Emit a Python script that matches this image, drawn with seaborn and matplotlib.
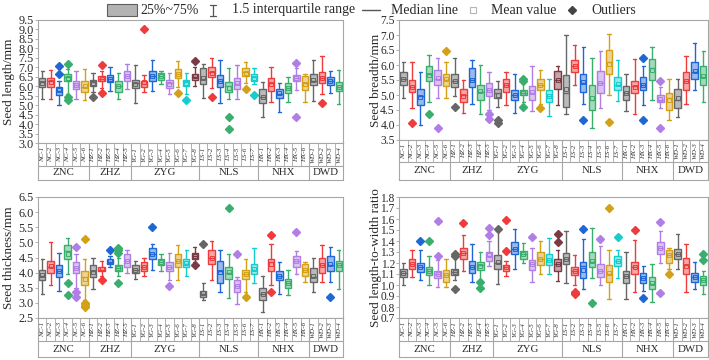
import numpy as np
import matplotlib
matplotlib.use('Agg')
import matplotlib.pyplot as plt
import seaborn as sns
from matplotlib.colors import to_rgba
from matplotlib.patches import Rectangle

sns.set_theme(style='white')
plt.rcParams['font.family'] = ['Liberation Serif', 'DejaVu Serif']
plt.rcParams['mathtext.fontset'] = 'stix'

# === DATA ===
groups = ['ZNC', 'ZHZ', 'ZYG', 'NLS', 'NHX', 'DWD']
group_samples = [
    ['NC-1', 'NC-2', 'NC-3', 'NC-4', 'NC-5', 'NC-6'],
    ['HZ-1', 'HZ-2', 'HZ-3', 'HZ-4', 'HZ-5'],
    ['YG-1', 'YG-2', 'YG-3', 'YG-4', 'YG-5', 'YG-6', 'YG-7', 'YG-8'],
    ['LS-1', 'LS-2', 'LS-3', 'LS-4', 'LS-5', 'LS-6', 'LS-7'],
    ['HX-1', 'HX-2', 'HX-3', 'HX-4', 'HX-5', 'HX-6'],
    ['WD-1', 'WD-2', 'WD-3', 'WD-4'],
]
colors = ['#666666', '#ef3b3b', '#1f66d6', '#3aae6c', '#b07ee6',
          '#d4a015', '#16cccc', '#7a3a44']

# each box: (whisker low, q1, median, q3, whisker high, mean, outliers)
length_rows = [
    (5.30, 5.95, 6.20, 6.45, 6.80, 6.18, []),
    (5.30, 5.95, 6.25, 6.45, 6.85, 6.22, []),
    (5.00, 5.55, 5.75, 5.95, 6.30, 5.78, [6.65, 7.05]),
    (5.60, 6.30, 6.50, 6.65, 6.90, 6.45, [7.20, 5.45, 5.25]),
    (5.35, 5.85, 6.05, 6.30, 6.80, 6.08, []),
    (5.25, 5.70, 5.95, 6.30, 6.90, 6.00, []),
    (5.70, 6.00, 6.20, 6.35, 6.70, 6.15, [5.45]),
    (5.90, 6.25, 6.40, 6.55, 6.80, 6.40, [7.10, 5.65]),
    (5.75, 6.20, 6.40, 6.60, 7.00, 6.40, []),
    (5.35, 5.70, 6.00, 6.30, 6.70, 6.00, []),
    (5.85, 6.30, 6.55, 6.80, 7.15, 6.55, []),
    (5.10, 5.90, 6.15, 6.35, 7.10, 6.12, []),
    (5.70, 5.95, 6.10, 6.30, 6.60, 6.20, [9.00]),
    (5.75, 6.30, 6.55, 6.80, 7.40, 6.55, []),
    (6.10, 6.35, 6.55, 6.70, 6.80, 6.52, []),
    (5.60, 5.90, 6.15, 6.35, 6.70, 6.12, []),
    (5.95, 6.45, 6.65, 6.90, 7.35, 6.65, [5.65]),
    (5.60, 6.00, 6.20, 6.35, 6.70, 6.15, [5.25]),
    (6.00, 6.35, 6.50, 6.65, 7.00, 6.55, [7.35]),
    (5.40, 6.10, 6.40, 6.95, 7.20, 6.45, []),
    (5.90, 6.50, 6.75, 7.00, 7.50, 6.72, [5.45]),
    (5.10, 5.95, 6.25, 6.60, 7.40, 6.25, []),
    (5.30, 5.70, 6.00, 6.20, 6.95, 5.90, [4.40, 3.75]),
    (5.30, 5.85, 6.10, 6.45, 7.10, 6.15, []),
    (6.15, 6.55, 6.75, 6.95, 7.30, 6.72, [5.85]),
    (6.10, 6.30, 6.50, 6.65, 6.95, 6.45, [5.55]),
    (4.35, 5.10, 5.45, 5.85, 6.20, 5.45, []),
    (5.15, 5.75, 6.15, 6.45, 7.00, 6.10, []),
    (4.65, 5.40, 5.60, 5.85, 6.15, 5.62, []),
    (5.15, 5.65, 5.90, 6.15, 6.50, 5.90, []),
    (5.80, 6.30, 6.45, 6.60, 6.95, 6.42, [7.25, 4.35]),
    (5.15, 5.80, 6.15, 6.55, 6.65, 6.10, []),
    (5.20, 6.05, 6.30, 6.65, 7.40, 6.32, []),
    (5.60, 6.15, 6.45, 6.75, 7.60, 6.42, [5.10]),
    (5.65, 6.05, 6.25, 6.50, 6.80, 6.25, []),
    (5.05, 5.75, 5.95, 6.20, 6.85, 5.95, []),
]

breadth_rows = [
    (4.90, 5.35, 5.55, 5.75, 6.10, 5.55, []),
    (4.55, 5.10, 5.25, 5.50, 6.10, 5.28, [4.05]),
    (4.00, 4.65, 4.95, 5.20, 5.75, 4.92, []),
    (4.75, 5.45, 5.70, 5.95, 6.35, 5.65, [4.35]),
    (4.90, 5.35, 5.55, 5.85, 6.25, 5.58, [3.90]),
    (4.90, 5.30, 5.50, 5.70, 6.10, 5.52, [6.45]),
    (4.95, 5.25, 5.45, 5.70, 6.25, 5.45, [4.60]),
    (4.40, 4.75, 5.00, 5.20, 5.50, 4.98, []),
    (4.70, 5.25, 5.50, 5.90, 6.15, 5.50, []),
    (4.35, 4.85, 5.10, 5.35, 6.00, 5.12, []),
    (4.50, 4.95, 5.15, 5.40, 5.75, 5.15, [4.35, 4.20]),
    (4.60, 4.90, 5.05, 5.20, 5.45, 5.00, [4.15, 4.08]),
    (4.65, 5.10, 5.35, 5.55, 5.75, 5.32, []),
    (4.40, 4.85, 5.00, 5.15, 5.70, 5.00, []),
    (4.75, 5.00, 5.08, 5.15, 5.40, 5.08, [5.55, 5.45, 4.60]),
    (4.45, 4.85, 5.05, 5.30, 5.95, 5.10, []),
    (4.70, 5.15, 5.35, 5.55, 5.85, 5.35, [4.55]),
    (4.30, 4.75, 4.95, 5.15, 5.55, 4.95, []),
    (4.65, 5.20, 5.50, 5.80, 5.95, 5.50, []),
    (4.35, 4.60, 5.05, 5.65, 7.00, 5.20, []),
    (5.35, 5.75, 5.95, 6.15, 6.65, 5.95, []),
    (4.70, 5.10, 5.40, 5.70, 6.60, 5.42, [4.15]),
    (3.90, 4.50, 4.85, 5.35, 6.25, 4.90, []),
    (4.55, 5.05, 5.40, 5.80, 6.45, 5.40, []),
    (5.00, 5.70, 6.10, 6.50, 7.05, 6.02, [4.10]),
    (4.80, 5.15, 5.35, 5.60, 6.15, 5.38, []),
    (4.45, 4.85, 5.05, 5.30, 5.70, 5.08, []),
    (4.35, 5.05, 5.30, 5.45, 6.20, 5.28, []),
    (4.65, 5.15, 5.35, 5.60, 5.95, 5.35, [6.25, 4.15]),
    (4.85, 5.50, 5.90, 6.20, 6.60, 5.85, []),
    (4.55, 4.75, 4.85, 5.00, 5.25, 4.88, [5.45, 3.90]),
    (4.15, 4.50, 4.90, 5.05, 5.55, 4.82, []),
    (4.25, 4.55, 4.85, 5.20, 5.55, 4.90, []),
    (4.70, 5.15, 5.45, 5.75, 6.30, 5.45, []),
    (5.15, 5.55, 5.75, 6.10, 6.75, 5.80, []),
    (4.75, 5.35, 5.60, 5.95, 6.45, 5.62, []),
]

thickness_rows = [
    (3.30, 3.75, 3.90, 4.10, 4.45, 3.92, []),
    (3.60, 4.00, 4.20, 4.40, 5.00, 4.22, []),
    (3.40, 3.85, 4.05, 4.25, 4.65, 4.05, []),
    (3.95, 4.45, 4.70, 4.90, 5.15, 4.62, [3.65, 3.25]),
    (3.50, 4.00, 4.15, 4.35, 4.60, 4.15, [4.85, 3.35, 3.20]),
    (3.10, 3.60, 3.85, 4.05, 4.45, 3.80, [5.10, 3.00, 2.95, 2.90, 2.85]),
    (3.45, 3.85, 4.05, 4.25, 4.50, 4.02, []),
    (3.90, 4.05, 4.10, 4.20, 4.40, 4.12, [3.75]),
    (4.20, 4.30, 4.35, 4.45, 4.55, 4.38, [4.75]),
    (3.90, 4.05, 4.15, 4.25, 4.50, 4.15, [4.80, 4.75, 4.65, 3.65]),
    (4.00, 4.20, 4.40, 4.60, 4.75, 4.38, []),
    (3.80, 4.00, 4.10, 4.25, 4.40, 4.10, []),
    (3.90, 4.05, 4.20, 4.35, 4.50, 4.20, []),
    (4.10, 4.45, 4.60, 4.80, 4.95, 4.62, [5.50]),
    (4.05, 4.25, 4.35, 4.45, 4.60, 4.35, []),
    (3.75, 4.05, 4.20, 4.35, 4.65, 4.18, [3.55]),
    (3.75, 4.20, 4.40, 4.60, 4.90, 4.40, []),
    (3.90, 4.20, 4.30, 4.45, 4.75, 4.32, []),
    (4.35, 4.45, 4.55, 4.65, 4.85, 4.55, [4.25]),
    (3.10, 3.20, 3.30, 3.40, 3.65, 3.32, [4.95]),
    (3.75, 4.30, 4.50, 4.75, 5.05, 4.50, []),
    (3.35, 3.65, 4.05, 4.40, 4.75, 4.02, []),
    (3.15, 3.80, 4.00, 4.20, 4.60, 4.02, [6.15]),
    (2.95, 3.35, 3.55, 3.75, 3.85, 3.55, [4.60]),
    (3.35, 3.80, 3.95, 4.10, 4.45, 3.95, [3.20]),
    (3.65, 3.95, 4.10, 4.30, 4.80, 4.12, []),
    (2.70, 3.10, 3.30, 3.50, 3.90, 3.30, []),
    (3.60, 4.05, 4.35, 4.45, 4.95, 4.30, [5.25, 3.35]),
    (3.30, 3.75, 3.90, 4.05, 4.35, 3.90, []),
    (3.25, 3.50, 3.65, 3.80, 4.10, 3.65, []),
    (3.95, 4.20, 4.40, 4.55, 4.70, 4.38, [5.35]),
    (3.70, 3.90, 4.10, 4.30, 4.35, 4.08, []),
    (3.35, 3.70, 3.85, 4.15, 4.50, 3.90, []),
    (3.70, 4.00, 4.25, 4.50, 4.90, 4.25, []),
    (3.70, 4.05, 4.25, 4.55, 4.85, 4.30, [3.20]),
    (3.45, 4.05, 4.25, 4.40, 4.75, 4.25, []),
]

ratio_rows = [
    (1.00, 1.07, 1.11, 1.15, 1.20, 1.11, []),
    (1.07, 1.15, 1.19, 1.24, 1.32, 1.19, []),
    (1.05, 1.12, 1.16, 1.20, 1.32, 1.16, [1.40]),
    (1.00, 1.09, 1.13, 1.16, 1.26, 1.13, [1.40]),
    (0.98, 1.06, 1.10, 1.13, 1.23, 1.10, [1.58, 1.26]),
    (0.98, 1.03, 1.09, 1.14, 1.24, 1.09, []),
    (1.05, 1.09, 1.12, 1.15, 1.25, 1.12, [1.28, 1.26, 0.96]),
    (1.13, 1.24, 1.29, 1.34, 1.45, 1.29, [1.56]),
    (1.03, 1.11, 1.16, 1.22, 1.37, 1.16, []),
    (1.05, 1.14, 1.18, 1.21, 1.30, 1.17, [1.03, 0.97]),
    (1.17, 1.22, 1.26, 1.30, 1.40, 1.27, [1.52, 1.45]),
    (1.01, 1.15, 1.20, 1.27, 1.49, 1.21, [1.51]),
    (1.08, 1.13, 1.16, 1.18, 1.22, 1.16, [1.59, 1.31]),
    (1.15, 1.28, 1.33, 1.39, 1.51, 1.33, []),
    (1.20, 1.24, 1.28, 1.31, 1.38, 1.28, []),
    (1.03, 1.14, 1.19, 1.23, 1.34, 1.19, [1.44]),
    (1.10, 1.18, 1.24, 1.30, 1.40, 1.24, []),
    (1.10, 1.18, 1.23, 1.28, 1.43, 1.23, []),
    (1.04, 1.13, 1.19, 1.24, 1.32, 1.19, [1.46, 1.39]),
    (1.02, 1.19, 1.24, 1.29, 1.49, 1.24, []),
    (1.00, 1.09, 1.13, 1.16, 1.27, 1.13, [0.94, 0.93, 0.92]),
    (0.96, 1.06, 1.17, 1.21, 1.42, 1.14, [1.51]),
    (1.06, 1.16, 1.21, 1.30, 1.52, 1.22, [0.84]),
    (1.00, 1.07, 1.13, 1.19, 1.35, 1.13, [1.42]),
    (0.87, 1.03, 1.10, 1.18, 1.32, 1.11, [1.70]),
    (1.06, 1.17, 1.22, 1.26, 1.32, 1.22, [1.44]),
    (0.87, 1.02, 1.08, 1.13, 1.30, 1.08, []),
    (0.94, 1.10, 1.16, 1.21, 1.41, 1.16, [1.50]),
    (0.95, 1.02, 1.06, 1.11, 1.17, 1.06, [0.88]),
    (0.85, 0.96, 1.01, 1.07, 1.19, 1.02, []),
    (1.20, 1.28, 1.34, 1.39, 1.49, 1.34, [1.57, 0.93]),
    (1.15, 1.20, 1.27, 1.32, 1.34, 1.27, [1.10]),
    (1.15, 1.24, 1.28, 1.33, 1.46, 1.28, []),
    (0.94, 1.10, 1.18, 1.25, 1.37, 1.17, []),
    (0.96, 1.03, 1.07, 1.11, 1.21, 1.07, []),
    (0.92, 1.00, 1.05, 1.08, 1.13, 1.05, [1.28, 1.23]),
]

samples = [s for g in group_samples for s in g]
box_colors = [colors[i] for g in group_samples for i in range(len(g))]
n = len(samples)
frame_col = '#a6a6a6'
text_col = '#2a2a2a'


def draw_panel(ax, tab, rows, ylim, yticks, ylabel, label_x, split, tick_fs):
    stats = [dict(whislo=r[0], q1=r[1], med=r[2], q3=r[3], whishi=r[4],
                  mean=r[5], fliers=r[6]) for r in rows]
    pos = np.arange(n)
    bp = ax.bxp(stats, positions=pos, widths=0.76, capwidths=0.4,
                patch_artist=True, showmeans=True,
                meanprops=dict(marker='s', markersize=3, markerfacecolor='none'),
                flierprops=dict(marker='D', markersize=4.2))
    for i, c in enumerate(box_colors):
        bp['boxes'][i].set(facecolor=to_rgba(c, 0.45), edgecolor=c, linewidth=1.0)
        for art in bp['whiskers'][2 * i:2 * i + 2] + bp['caps'][2 * i:2 * i + 2]:
            art.set(color=c, linewidth=1.0)
        bp['medians'][i].set(color=c, linewidth=1.0)
        bp['means'][i].set(markeredgecolor=c, markeredgewidth=0.7)
        bp['fliers'][i].set(markerfacecolor=c, markeredgecolor=c)

    ax.set_xlim(-0.5, n - 0.5)
    ax.set_ylim(*ylim)
    ax.set_yticks(yticks)
    ax.set_yticklabels([f'{t:.1f}' for t in yticks])
    ax.set_xticks([])
    ax.tick_params(axis='y', direction='out', length=2, width=0.6, pad=1,
                   labelsize=tick_fs, colors=frame_col, labelcolor=text_col, left=True)
    for sp in ax.spines.values():
        sp.set_color(frame_col)
        sp.set_linewidth(0.8)
    ax.set_ylabel(ylabel, fontsize=9.5, color=text_col)
    ax.yaxis.set_label_coords(label_x, 0.5)

    # table of sample / group names below the plot
    tab.set_xlim(-0.5, n - 0.5)
    tab.set_ylim(0, 1)
    tab.set_xticks([])
    tab.set_yticks([])
    for sp in tab.spines.values():
        sp.set_color(frame_col)
        sp.set_linewidth(0.8)
    tab.axhline(split, color=frame_col, lw=0.8)
    start = 0
    for g, names in zip(groups, group_samples):
        stop = start + len(names)
        for k in range(start, stop - 1):
            tab.plot([k + 0.5, k + 0.5], [split, 1], color=frame_col, lw=0.6)
        if stop < n:
            tab.plot([stop - 0.5, stop - 0.5], [0, 1], color=frame_col, lw=0.8)
        tab.text((start + stop - 1) / 2, split / 2, g, ha='center', va='center',
                 fontsize=7.8, color=text_col)
        start = stop
    for k, s in enumerate(samples):
        tab.text(k, (1 + split) / 2, s, rotation=90, ha='center', va='center',
                 fontsize=5.0, style='italic', color='#333333')


W, H = 709, 360
fig = plt.figure(figsize=(W / 100, H / 100), dpi=100)


def px_axes(x0, y0, x1, y1):
    return fig.add_axes([x0 / W, 1 - y1 / H, (x1 - x0) / W, (y1 - y0) / H])


ax1 = px_axes(38, 20, 343, 143)
tb1 = px_axes(38, 143, 343, 179.5)
ax2 = px_axes(399, 20, 707.5, 140)
tb2 = px_axes(399, 140, 707.5, 179.5)
ax3 = px_axes(38, 197, 343, 318)
tb3 = px_axes(38, 318, 343, 357)
ax4 = px_axes(399, 197, 707.5, 318)
tb4 = px_axes(399, 318, 707.5, 357)

draw_panel(ax1, tb1, length_rows, (3.0, 9.5), np.arange(3.0, 9.51, 0.5),
           'Seed length/mm', -0.075, 0.38, 8.8)
draw_panel(ax2, tb2, breadth_rows, (3.5, 7.5), np.arange(3.5, 7.51, 0.5),
           'Seed breadth/mm', -0.055, 0.44, 8.3)
draw_panel(ax3, tb3, thickness_rows, (2.5, 6.5), np.arange(2.5, 6.51, 0.5),
           'Seed thickness/mm', -0.075, 0.41, 8.8)
draw_panel(ax4, tb4, ratio_rows, (0.7, 1.8), np.arange(0.7, 1.801, 0.1),
           'Seed length-to-width ratio', -0.055, 0.41, 8.3)

# === LEGEND (drawn in a strip along the top, pixel units) ===
lg = px_axes(0, 0, W, 20)
lg.set_xlim(0, W)
lg.set_ylim(20, 0)
lg.axis('off')
lg.add_patch(Rectangle((107, 4), 30, 12, facecolor='#b3b3b3', edgecolor='#5e5e5e', lw=0.8))
lg.text(140, 10, '25%~75%', va='center', ha='left', fontsize=10, color=text_col)
lg.plot([213, 213], [4.5, 15.5], color='#555555', lw=0.9)
lg.plot([210, 216], [4.5, 4.5], color='#555555', lw=0.9)
lg.plot([210, 216], [15.5, 15.5], color='#555555', lw=0.9)
lg.text(232, 10, '1.5 interquartile range', va='center', ha='left', fontsize=10, color=text_col)
lg.plot([362, 380], [10, 10], color='#555555', lw=1.0)
lg.text(391, 10, 'Median line', va='center', ha='left', fontsize=10, color=text_col)
lg.plot([473], [10], marker='s', markersize=4, markerfacecolor='white',
        markeredgecolor='#b5b5b5', markeredgewidth=0.8)
lg.text(491, 10, 'Mean value', va='center', ha='left', fontsize=10, color=text_col)
lg.plot([572], [10], marker='D', markersize=4, color='#444444')
lg.text(591, 10, 'Outliers', va='center', ha='left', fontsize=10, color=text_col)

fig.savefig('out.png', dpi=100)
